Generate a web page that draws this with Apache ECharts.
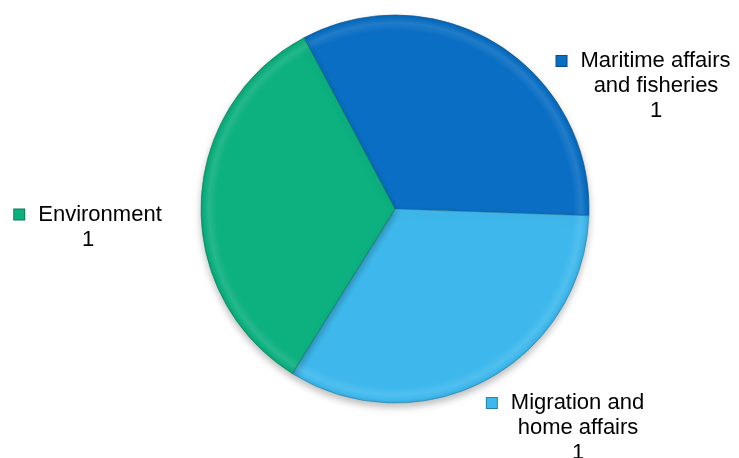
<!DOCTYPE html>
<html>
<head>
<meta charset="utf-8">
<script src="https://cdn.jsdelivr.net/npm/echarts@6/dist/echarts.min.js"></script>
<style>html,body{margin:0;padding:0;background:#fff}#c{width:739px;height:458px}</style>
</head>
<body>
<div id="c"></div>
<script>
// ---- data ----
const categories = ['Maritime affairs and fisheries', 'Migration and home affairs', 'Environment'];
const values = [1, 1, 1];
const labelLines = [['Maritime affairs', 'and fisheries'], ['Migration and', 'home affairs'], ['Environment']];
const colors = ['#0A6FC4', '#3EB8EC', '#0DB07F'];

// ---- presentation ----
const CX = 395, CY = 209, R = 194;
const labelPos = [
  { x: 656, y: 86, pad: true },
  { x: 578, y: 428, pad: true },
  { x: 88, y: 227, pad: false }
];

function shade(hex, f) {
  const n = parseInt(hex.slice(1), 16);
  let r = (n >> 16) & 255, g = (n >> 8) & 255, b = n & 255;
  const m = c => f >= 0 ? Math.round(c + (255 - c) * f) : Math.round(c * (1 + f));
  return 'rgb(' + m(r) + ',' + m(g) + ',' + m(b) + ')';
}
function fillFor(c) {
  return new echarts.graphic.RadialGradient(CX, CY, R, [
    { offset: 0, color: c },
    { offset: 0.92, color: c },
    { offset: 0.96, color: shade(c, 0.1) },
    { offset: 0.985, color: c },
    { offset: 1, color: shade(c, -0.08) }
  ], true);
}

const rich = { t: { fontSize: 22, lineHeight: 25, color: '#000', fontFamily: 'Liberation Sans, Arial, sans-serif', align: 'center' },
               gap: { width: 14, lineHeight: 25, align: 'center' },
               pad: { width: 25, lineHeight: 25, align: 'center' } };
colors.forEach((c, i) => {
  rich['icon' + i] = { width: 10, height: 10, lineHeight: 25, align: 'center',
    backgroundColor: c, borderColor: shade(c, -0.3), borderWidth: 1 };
});

const data = categories.map((name, i) => ({
  name: name,
  value: values[i],
  itemStyle: { color: fillFor(colors[i]), borderColor: shade(colors[i], -0.3), borderWidth: 0.6,
    shadowBlur: 7, shadowOffsetY: 4, shadowColor: 'rgba(0,0,0,0.25)' }
}));

const chart = echarts.init(document.getElementById('c'), null, { renderer: 'canvas' });
chart.setOption({
  animation: false,
  backgroundColor: '#fff',
  series: [{
    type: 'pie',
    center: [CX, CY],
    radius: R,
    startAngle: 118,
    clockwise: true,
    avoidLabelOverlap: false,
    data: data,
    label: {
      show: true,
      position: 'outside',
      rich: rich,
      formatter: function (p) {
        const i = p.dataIndex;
        const lines = labelLines[i];
        let out = '{icon' + i + '|}{gap|}{t|' + lines[0] + '}' + (labelPos[i].pad ? '{pad|}' : '');
        for (let k = 1; k < lines.length; k++) out += '\n{t|' + lines[k] + '}';
        out += '\n{t|' + p.value + '}';
        return out;
      }
    },
    labelLine: { show: false },
    labelLayout: function (params) {
      const lp = labelPos[params.dataIndex];
      return { x: lp.x, y: lp.y, align: 'center', verticalAlign: 'middle' };
    },
    emphasis: { disabled: true }
  }]
});
</script>
</body>
</html>
